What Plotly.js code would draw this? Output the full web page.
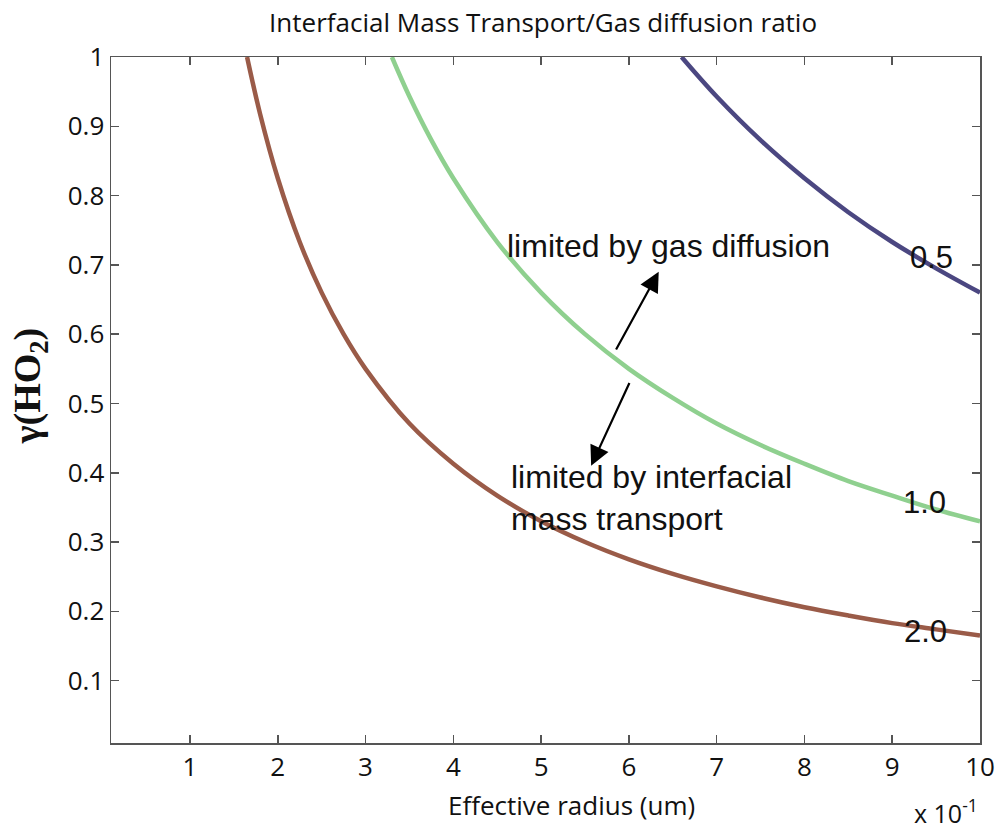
<!DOCTYPE html>
<html>
<head>
<meta charset="utf-8">
<script src="https://cdn.plot.ly/plotly-3.0.1.min.js"></script>
<style>html,body{margin:0;padding:0;background:#fff;}#chart{width:1002px;height:830px;}</style>
</head>
<body>
<div id="chart"></div>
<script>
// Curve for ratio 2.0 (brown)
const x20 = [1.65, 1.8, 2, 2.25, 2.5, 2.75, 3, 3.5, 4, 4.5, 5, 5.5, 6, 6.5, 7, 7.5, 8, 8.5, 9, 9.5, 10];
const y20 = [1.0, 0.917, 0.825, 0.733, 0.66, 0.6, 0.55, 0.471, 0.413, 0.367, 0.33, 0.3, 0.275, 0.254, 0.236, 0.22, 0.206, 0.194, 0.183, 0.174, 0.165];
// Curve for ratio 1.0 (green)
const x10 = [3.3, 3.5, 3.75, 4, 4.5, 5, 5.5, 6, 6.5, 7, 7.5, 8, 8.5, 9, 9.5, 10];
const y10 = [1.0, 0.943, 0.88, 0.825, 0.733, 0.66, 0.6, 0.55, 0.508, 0.471, 0.44, 0.413, 0.388, 0.367, 0.347, 0.33];
// Curve for ratio 0.5 (purple)
const x05 = [6.6, 7, 7.5, 8, 8.5, 9, 9.5, 10];
const y05 = [1.0, 0.943, 0.88, 0.825, 0.776, 0.733, 0.695, 0.66];

const xTicks = [1, 2, 3, 4, 5, 6, 7, 8, 9, 10];
const xTickText = ['1', '2', '3', '4', '5', '6', '7', '8', '9', '10'];
const yTicks = [0.1, 0.2, 0.3, 0.4, 0.5, 0.6, 0.7, 0.8, 0.9, 1];
const yTickText = ['0.1', '0.2', '0.3', '0.4', '0.5', '0.6', '0.7', '0.8', '0.9', '1'];

const curveLabels = [
  {x: 9.45, y: 0.71, text: '0.5'},
  {x: 9.37, y: 0.357, text: '1.0'},
  {x: 9.38, y: 0.171, text: '2.0'}
];

const lineStyle = (c) => ({color: c, width: 4.5, shape: 'spline'});
const traces = [
  {x: x20, y: y20, mode: 'lines', line: lineStyle('#9a5b48'), hoverinfo: 'skip'},
  {x: x10, y: y10, mode: 'lines', line: lineStyle('#8fd08f'), hoverinfo: 'skip'},
  {x: x05, y: y05, mode: 'lines', line: lineStyle('#4b4781'), hoverinfo: 'skip'}
];

const annFont = {family: 'Liberation Sans, Arial', size: 31, color: '#111'};
const annFontBig = {family: 'Liberation Sans, Arial', size: 32, color: '#111'};
const annotations = curveLabels.map(l => ({
  x: l.x, y: l.y, xref: 'x', yref: 'y', text: l.text, showarrow: false, font: annFont
}));
annotations.push(
  {x: 4.59, y: 0.727, xref: 'x', yref: 'y', text: 'limited by gas diffusion', showarrow: false,
   xanchor: 'left', font: annFontBig},
  {x: 4.63, y: 0.363, xref: 'x', yref: 'y', text: 'limited by interfacial<br>mass transport', showarrow: false,
   xanchor: 'left', align: 'left', font: annFontBig},
  {x: 6.34, y: 0.69, ax: 5.82, ay: 0.57, xref: 'x', yref: 'y', axref: 'x', ayref: 'y', text: ' ',
   showarrow: true, arrowhead: 2, arrowsize: 1.8, arrowwidth: 2.2, arrowcolor: '#000'},
  {x: 5.57, y: 0.41, ax: 6.04, ay: 0.539, xref: 'x', yref: 'y', axref: 'x', ayref: 'y', text: ' ',
   showarrow: true, arrowhead: 2, arrowsize: 1.8, arrowwidth: 2.2, arrowcolor: '#000'},
  {x: 1, y: 0, xref: 'paper', yref: 'paper', yshift: -48, xshift: 0, text: 'x 10<sup>-1</sup>', showarrow: false,
   xanchor: 'right', yanchor: 'top', font: {family: 'Open Sans', size: 25, color: '#111'}},
  // x-axis title (offset right of centre as in the reference)
  {x: 0.53, y: 0, xref: 'paper', yref: 'paper', yshift: -62, text: 'Effective radius (um)', showarrow: false,
   xanchor: 'center', yanchor: 'middle', font: {family: 'Open Sans', size: 26, color: '#111'}},
  // y-axis title
  {x: 0, y: 0.52, xref: 'paper', yref: 'paper', xshift: -81, text: 'γ(HO<sub>2</sub>)', showarrow: false,
   textangle: -90, xanchor: 'center', yanchor: 'middle',
   font: {family: 'Liberation Serif', size: 38, color: '#111', weight: 'bold'}}
);

const layout = {
  width: 1002, height: 830,
  margin: {l: 111, r: 22, t: 57, b: 87},
  paper_bgcolor: '#fff', plot_bgcolor: '#fff',
  showlegend: false,
  title: {text: 'Interfacial Mass Transport/Gas diffusion ratio', x: 0.542, xanchor: 'center', y: 0.973, yanchor: 'middle',
          font: {family: 'Open Sans', size: 26, color: '#111'}},
  xaxis: {
    range: [0.1, 10], tickvals: xTicks, ticktext: xTickText,
    ticks: 'inside', ticklen: 8, tickcolor: '#555', tickwidth: 1.5,
    showline: true, linecolor: '#555', linewidth: 1.5, mirror: 'ticks',
    showgrid: false, zeroline: false,
    tickfont: {family: 'Open Sans', size: 26, color: '#111'}
  },
  yaxis: {
    range: [0.01, 1], tickvals: yTicks, ticktext: yTickText,
    ticks: 'inside', ticklen: 8, tickcolor: '#555', tickwidth: 1.5,
    showline: true, linecolor: '#555', linewidth: 1.5, mirror: 'ticks',
    showgrid: false, zeroline: false,
    tickfont: {family: 'Open Sans', size: 26, color: '#111'}
  },
  annotations: annotations
};

Plotly.newPlot('chart', traces, layout, {displayModeBar: false, staticPlot: true});
</script>
</body>
</html>
